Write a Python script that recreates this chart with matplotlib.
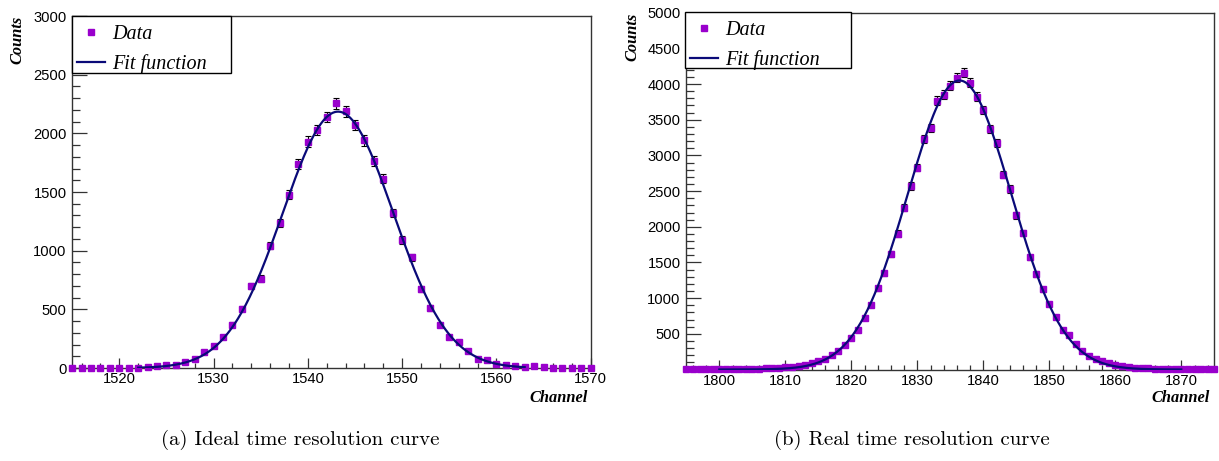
import numpy as np
import matplotlib.pyplot as plt
from matplotlib.patches import Rectangle
from matplotlib.lines import Line2D
from matplotlib.ticker import MultipleLocator

# Datos panel (a)
ch_a = np.arange(1515, 1571)
counts_a = [0, 0, 0, 0, 0, 0, 0, 1, 6, 15,
            22, 28, 48, 77, 133, 191, 260, 370, 505, 700,
            762, 1043, 1233, 1475, 1742, 1930, 2028, 2139, 2256, 2190,
            2070, 1940, 1763, 1613, 1322, 1091, 943, 672, 512, 365,
            260, 222, 148, 78, 68, 32, 28, 15, 5, 14,
            6, 3, 3, 2, 2, 2]
fit_a = (2185, 1543.2, 5.85)   # amplitud, media, sigma
fit_range_a = (1522, 1563)

# Datos panel (b)
ch_b = np.arange(1795, 1876)
counts_b = [3, 3, 4, 4, 5, 5, 6, 7, 8, 10,
            12, 14, 17, 20, 26, 32, 42, 55, 70, 92,
            118, 152, 198, 262, 338, 445, 560, 715, 905, 1140,
            1350, 1620, 1905, 2266, 2570, 2830, 3224, 3387, 3765, 3852,
            3978, 4087, 4157, 4021, 3821, 3634, 3373, 3177, 2730, 2530,
            2160, 1910, 1571, 1337, 1123, 917, 740, 553, 479, 352,
            259, 189, 143, 118, 90, 62, 45, 35, 27, 21,
            16, 13, 10, 8, 7, 5, 4, 3, 3, 2, 2]
fit_b = (4050, 1836.4, 7.85)
fit_range_b = (1800, 1870)

PURPLE = '#9900cc'
NAVY = '#0a0a78'
FRAME = '#333333'


def gaus(x, p):
    return p[0] * np.exp(-0.5 * ((x - p[1]) / p[2]) ** 2)


def panel(ax, ch, counts, fit, fit_range, xlim, ylim, ymajor, yticklabels, legbox):
    counts = np.array(counts, dtype=float)
    ax.errorbar(ch, counts, yerr=np.sqrt(counts), fmt='none', ecolor='black',
                elinewidth=0.8, capsize=2.2, capthick=0.8, zorder=2, clip_on=False)
    ax.plot(ch, counts, 's', color=PURPLE, markersize=4.7, zorder=3, clip_on=False)
    xf = np.linspace(fit_range[0], fit_range[1], 400)
    ax.plot(xf, gaus(xf, fit), color=NAVY, lw=1.6, zorder=4)

    ax.set_xlim(*xlim)
    ax.set_ylim(*ylim)
    ax.xaxis.set_minor_locator(MultipleLocator(2))
    ax.yaxis.set_minor_locator(MultipleLocator(100))
    ax.set_xticks(np.arange(xlim[0] + 5, xlim[1] + 1, 10))
    ax.set_yticks(np.arange(0, ylim[1] + 1, ymajor))
    ax.set_yticklabels(yticklabels)
    ax.tick_params(axis='both', which='both', direction='in', colors=FRAME,
                   labelcolor='black', labelsize=10.6, width=0.9)
    ax.tick_params(axis='y', which='major', length=11, pad=4.0)
    ax.tick_params(axis='y', which='minor', length=5.8)
    ax.tick_params(axis='x', which='major', length=7.2, pad=3.2)
    ax.tick_params(axis='x', which='minor', length=3.6)
    for lab in ax.get_xticklabels() + ax.get_yticklabels():
        lab.set_fontfamily('Liberation Sans')
    for s in ax.spines.values():
        s.set_color(FRAME)
        s.set_linewidth(1.0)

    # caja de leyenda al estilo ROOT
    fig = ax.figure
    W, H = fig.bbox.width, fig.bbox.height
    x0, y0, x1, y1 = legbox
    box = Rectangle((x0 / W, 1 - y1 / H), (x1 - x0) / W, (y1 - y0) / H,
                    transform=fig.transFigure, facecolor='white', edgecolor='black',
                    lw=1.0, zorder=10)
    fig.patches.append(box)
    handles = [Line2D([], [], ls='none', marker='s', color=PURPLE, markersize=4.7),
               Line2D([], [], color=NAVY, lw=1.6)]
    leg = fig.legend(handles, ['Data', 'Fit function'], loc='upper left',
                     bbox_to_anchor=((x0 - 10) / W, 1 - (y0 - 6) / H),
                     frameon=False, handlelength=1.4, handletextpad=0.33,
                     borderpad=0.25, labelspacing=0.5,
                     prop={'family': 'Liberation Serif', 'style': 'italic', 'size': 14.5})
    leg.set_zorder(11)


fig = plt.figure(figsize=(12.19, 4.61), dpi=100)
ax1 = fig.add_axes([72.2 / 1219, 1 - 368 / 461, 518.5 / 1219, 352 / 461])
ax2 = fig.add_axes([686.3 / 1219, 1 - 369.5 / 461, 528 / 1219, 356.8 / 461])

panel(ax1, ch_a, counts_a, fit_a, fit_range_a, (1515, 1570), (0, 3000), 500,
      [str(v) for v in range(0, 3001, 500)], (72, 16, 231, 73))
panel(ax2, ch_b, counts_b, fit_b, fit_range_b, (1795, 1875), (0, 5000), 500,
      [''] + [str(v) for v in range(500, 5001, 500)], (685, 12, 851, 68))

lab = dict(family='Liberation Serif', style='italic', weight='bold', size=11.8)
fig.text(17 / 1219, 1 - 40 / 461, 'Counts', rotation=90, ha='center', va='center', **lab)
fig.text(632 / 1219, 1 - 37 / 461, 'Counts', rotation=90, ha='center', va='center', **lab)
fig.text(588 / 1219, 1 - 398 / 461, 'Channel', ha='right', va='center', **lab)
fig.text(1210 / 1219, 1 - 398 / 461, 'Channel', ha='right', va='center', **lab)

cap = dict(family='cmr10', size=15, ha='center', va='center')
fig.text(300 / 1219, 1 - 440 / 461, '(a) Ideal time resolution curve', **cap)
fig.text(912 / 1219, 1 - 440 / 461, '(b) Real time resolution curve', **cap)

fig.savefig('out.png', dpi=100)
